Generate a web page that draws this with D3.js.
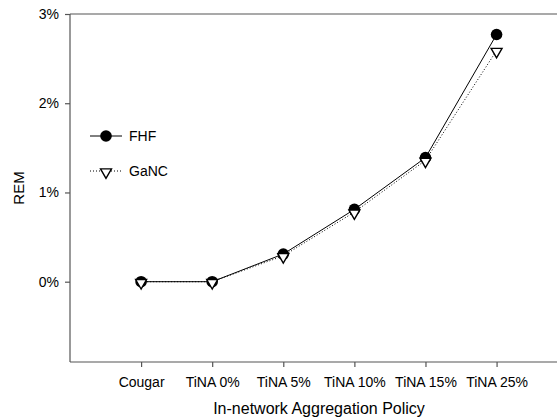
<!DOCTYPE html>
<html>
<head>
<meta charset="utf-8">
<style>
  body { margin: 0; background: #fff; }
  text { font-family: "Liberation Sans", Arial, sans-serif; fill: #000; }
</style>
</head>
<body>
<script src="https://cdn.jsdelivr.net/npm/d3@7/dist/d3.min.js"></script>
<div id="chart"></div>
<script>
// categories and series
var policies = ["Cougar", "TiNA 0%", "TiNA 5%", "TiNA 10%", "TiNA 15%", "TiNA 25%"];
var fhf  = [0, 0, 0.31, 0.81, 1.39, 2.77];
var ganc = [0, 0, 0.29, 0.78, 1.36, 2.59];
var yTicks = [0, 1, 2, 3];

var W = 557, H = 420;
var pLeft = 70, pTop = 14, pBottom = 362, pRight = 557;

var svg = d3.select("#chart").append("svg")
    .attr("width", W)
    .attr("height", H);

// index scale, first category sits one step in from the axis
var x = d3.scaleLinear().domain([-1, 5.85]).range([pLeft, pRight]);
var y = d3.scaleLinear().domain([-0.9, 3]).range([pBottom, pTop]);

// frame: top line only (no right border)
svg.append("line")
  .attr("x1", pLeft).attr("x2", pRight)
  .attr("y1", pTop).attr("y2", pTop)
  .attr("stroke", "#555").attr("stroke-width", 1.2);

// y axis
var yAxis = svg.append("g")
  .attr("transform", "translate(" + pLeft + ",0)")
  .call(d3.axisLeft(y).tickValues(yTicks).tickSize(5).tickPadding(6)
        .tickFormat(function(d) { return d + "%"; }));
yAxis.select(".domain").attr("d", "M0," + pTop + "V" + pBottom);

// x axis
var xAxis = svg.append("g")
  .attr("transform", "translate(0," + pBottom + ")")
  .call(d3.axisBottom(x).tickValues(d3.range(policies.length)).tickSize(5).tickPadding(10)
        .tickFormat(function(d) { return policies[d]; }));
xAxis.select(".domain").attr("d", "M" + pLeft + ",0H" + pRight);

svg.selectAll(".domain, .tick line").attr("stroke", "#555").attr("stroke-width", 1.2);
svg.selectAll(".tick text").style("font-size", "14px").style("font-family", "Liberation Sans, Arial, sans-serif").attr("fill", "#000");

// axis titles
svg.append("text")
  .attr("x", 319).attr("y", 414)
  .attr("text-anchor", "middle")
  .style("font-size", "16px")
  .text("In-network Aggregation Policy");

svg.append("text")
  .attr("transform", "translate(24," + 188 + ") rotate(-90)")
  .attr("text-anchor", "middle")
  .style("font-size", "15px")
  .text("REM");

var line = d3.line()
  .x(function(d, i) { return x(i); })
  .y(function(d) { return y(d); });

var tri = d3.symbol().type(d3.symbolTriangle).size(52);

// GaNC dotted line
svg.append("path").datum(ganc)
  .attr("d", line)
  .attr("fill", "none").attr("stroke", "#000")
  .attr("stroke-width", 1).attr("stroke-dasharray", "1,2");

// FHF solid line
svg.append("path").datum(fhf)
  .attr("d", line)
  .attr("fill", "none").attr("stroke", "#000").attr("stroke-width", 1);

// FHF circles
svg.selectAll(".fhf").data(fhf).enter().append("circle")
  .attr("class", "fhf")
  .attr("cx", function(d, i) { return x(i); })
  .attr("cy", function(d) { return y(d); })
  .attr("r", 5.8)
  .attr("fill", "#000");

// GaNC inverted triangles
svg.selectAll(".ganc").data(ganc).enter().append("path")
  .attr("class", "ganc")
  .attr("d", tri)
  .attr("transform", function(d, i) { return "translate(" + x(i) + "," + (y(d) + 1) + ") rotate(180)"; })
  .attr("fill", "#fff").attr("stroke", "#000").attr("stroke-width", 1.4);

// legend
var lg = svg.append("g");
lg.append("line").attr("x1", 90).attr("x2", 122).attr("y1", 136).attr("y2", 136)
  .attr("stroke", "#000");
lg.append("circle").attr("cx", 106).attr("cy", 136).attr("r", 5.8).attr("fill", "#000");
lg.append("text").attr("x", 129).attr("y", 141).style("font-size", "14px").text("FHF");

lg.append("line").attr("x1", 90).attr("x2", 122).attr("y1", 171).attr("y2", 171)
  .attr("stroke", "#000").attr("stroke-dasharray", "1,2");
lg.append("path").attr("d", tri)
  .attr("transform", "translate(106,172) rotate(180)")
  .attr("fill", "#fff").attr("stroke", "#000").attr("stroke-width", 1.4);
lg.append("text").attr("x", 129).attr("y", 176).style("font-size", "14px").text("GaNC");
</script>
</body>
</html>
